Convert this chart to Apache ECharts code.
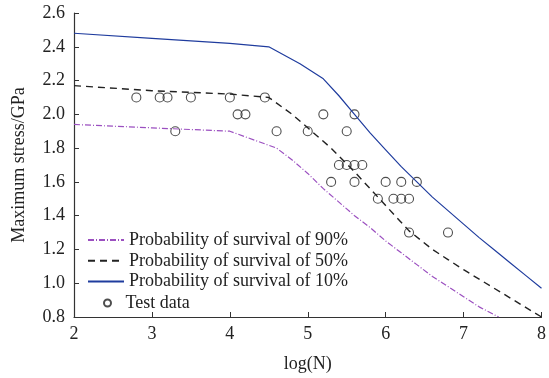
<!DOCTYPE html>
<html>
<head>
<meta charset="utf-8">
<script src="https://cdn.jsdelivr.net/npm/echarts@6/dist/echarts.min.js"></script>
<style>
html,body{margin:0;padding:0;background:#fff;}
#main{width:549px;height:378px;}
</style>
</head>
<body>
<div id="main"></div>
<script>
// curve points: [log(N), stress]
var curve90 = [[2,1.94],[3,1.92],[4,1.90],[4.6,1.80],[4.8,1.73],[5.0,1.65],[5.2,1.56],[5.4,1.48],[5.6,1.40],[5.8,1.33],[6.0,1.25],[6.2,1.18],[6.4,1.11],[6.6,1.04],[6.8,0.98],[7.0,0.92],[7.2,0.86],[7.45,0.80]];
var curve50 = [[2,2.17],[3,2.14],[4,2.12],[4.5,2.10],[4.8,2.0],[5.0,1.92],[5.3,1.80],[5.6,1.66],[5.8,1.56],[6.0,1.46],[6.3,1.31],[6.6,1.20],[6.8,1.14],[7.0,1.08],[7.25,1.01],[7.5,0.94],[7.75,0.87],[8.0,0.80]];
var curve10 = [[2,2.48],[3,2.45],[4,2.42],[4.5,2.40],[4.9,2.30],[5.2,2.21],[5.4,2.11],[5.6,2.0],[5.8,1.89],[6.0,1.79],[6.2,1.69],[6.4,1.60],[6.6,1.51],[6.8,1.43],[7.0,1.35],[7.2,1.27],[7.4,1.195],[7.6,1.12],[7.8,1.045],[8.0,0.97]];
var testData = [
  [2.8,2.1],[3.1,2.1],[3.2,2.1],[3.5,2.1],[4.0,2.1],[4.45,2.1],
  [3.3,1.9],[4.1,2.0],[4.2,2.0],[4.6,1.9],[5.0,1.9],
  [5.2,2.0],[5.6,2.0],[5.5,1.9],
  [5.4,1.7],[5.5,1.7],[5.6,1.7],[5.7,1.7],
  [5.3,1.6],[5.6,1.6],[6.0,1.6],[6.2,1.6],[6.4,1.6],
  [5.9,1.5],[6.1,1.5],[6.2,1.5],[6.3,1.5],
  [6.3,1.3],[6.8,1.3]
];
var names = ['Probability of survival of 90%','Probability of survival of 50%','Probability of survival of 10%','Test data'];

var font = 'Liberation Serif';
var txt = {fontFamily: font, fontSize: 18, color: '#222'};
var chart = echarts.init(document.getElementById('main'));
var option = {
  animation: false,
  textStyle: {fontFamily: font},
  grid: {left: 74, right: 5, top: 13, bottom: 58},
  legend: [{
    data: names.slice(0, 3),
    orient: 'vertical',
    left: 87, top: 230,
    padding: 0,
    itemWidth: 36, itemHeight: 10, itemGap: 0.8,
    itemStyle: {opacity: 0},
    textStyle: {fontFamily: font, fontSize: 18, color: '#222', lineHeight: 20}
  }, {
    data: [names[3]],
    orient: 'vertical',
    left: 103, top: 293,
    padding: 0,
    itemWidth: 8, itemHeight: 7,
    formatter: function (n) { return '  ' + n; },
    textStyle: {fontFamily: font, fontSize: 18, color: '#222', lineHeight: 20}
  }],
  xAxis: {
    type: 'value', min: 2, max: 8, interval: 1,
    name: 'log(N)', nameLocation: 'middle', nameGap: 38,
    nameTextStyle: txt,
    axisLine: {lineStyle: {color: '#333', width: 1.2}},
    axisTick: {inside: true, length: 5, lineStyle: {color: '#333'}},
    axisLabel: {fontFamily: font, fontSize: 18, color: '#222', margin: 8},
    splitLine: {show: false}
  },
  yAxis: {
    type: 'value', min: 0.8, max: 2.6, interval: 0.2,
    name: 'Maximum stress/GPa', nameLocation: 'middle', nameGap: 46,
    nameTextStyle: txt,
    axisLine: {show: true, lineStyle: {color: '#333', width: 1.2}},
    axisTick: {show: true, inside: true, length: 5, lineStyle: {color: '#333'}},
    axisLabel: {fontFamily: font, fontSize: 18, color: '#222', margin: 9,
      formatter: function (v) { return v.toFixed(1); }},
    splitLine: {show: false}
  },
  series: [{
    name: names[0], type: 'line', data: curve90, symbol: 'none',
    lineStyle: {color: '#9b4fc0', width: 1.2, type: [6, 2, 1, 2]},
    itemStyle: {color: '#9b4fc0'}
  }, {
    name: names[1], type: 'line', data: curve50, symbol: 'none',
    lineStyle: {color: '#222', width: 1.4, type: [7, 5]},
    itemStyle: {color: '#222'}
  }, {
    name: names[2], type: 'line', data: curve10, symbol: 'none',
    lineStyle: {color: '#1f3c9e', width: 1.2},
    itemStyle: {color: '#1f3c9e'}
  }, {
    name: names[3], type: 'scatter', data: testData,
    symbol: 'circle', symbolSize: 9,
    itemStyle: {color: 'rgba(255,255,255,0)', borderColor: '#222', borderWidth: 1.1}
  }]
};
chart.setOption(option);
</script>
</body>
</html>
